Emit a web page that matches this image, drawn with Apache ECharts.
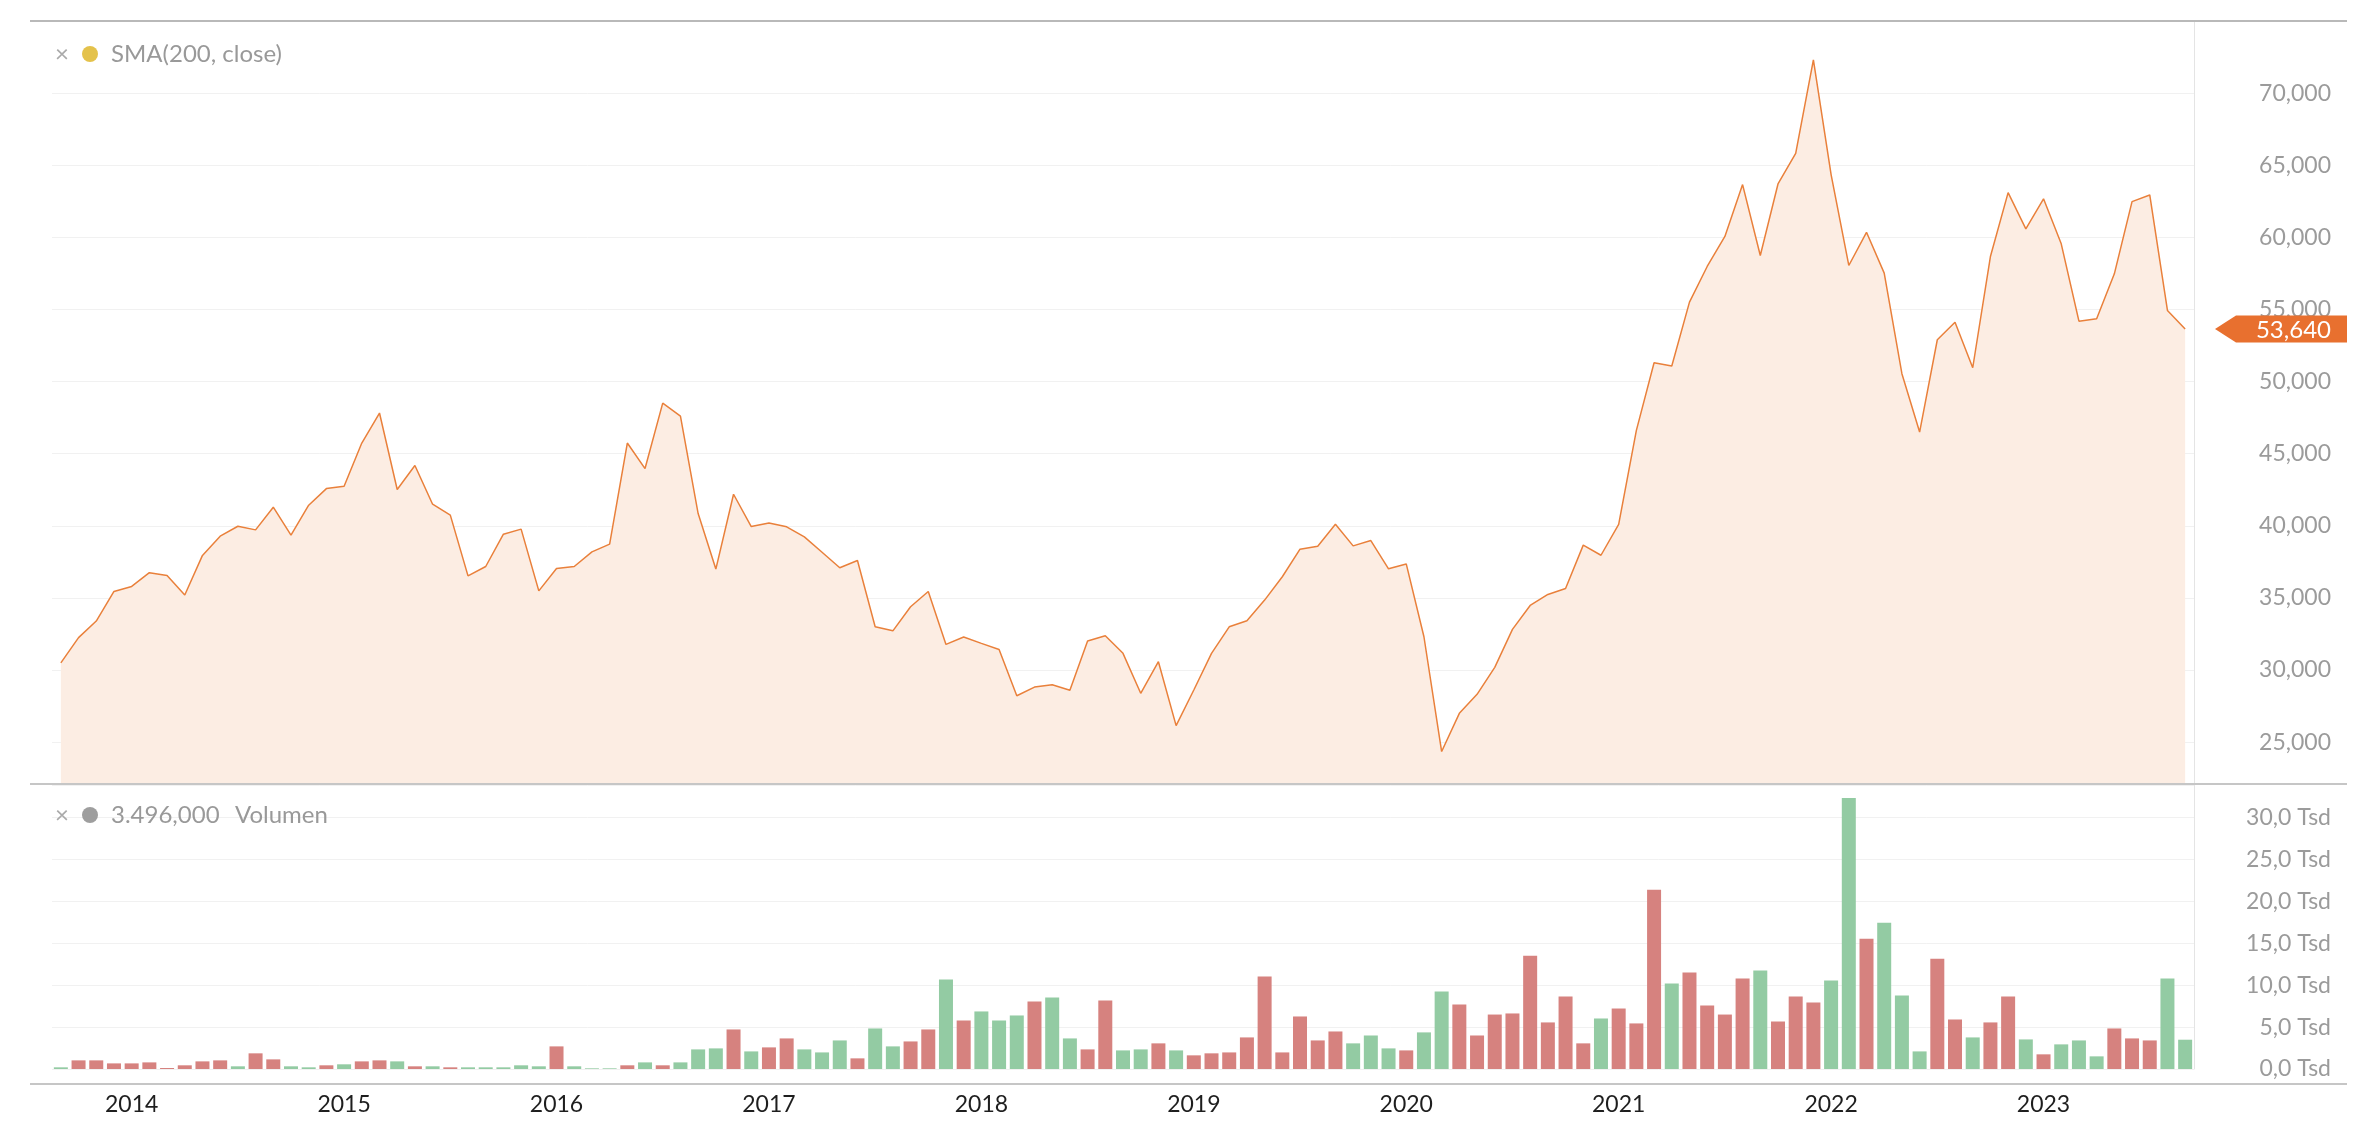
<!DOCTYPE html>
<html><head><meta charset="utf-8">
<script src="https://cdn.jsdelivr.net/npm/echarts@6/dist/echarts.min.js"></script>
<style>html,body{margin:0;padding:0;background:#fff}#c{width:2376px;height:1124px}</style>
</head><body><div id="c"></div>
<script>
// Monthly categories (Sep 2013 – Sep 2023)
const months = [
  '2013-09','2013-10','2013-11','2013-12',
  '2014-01','2014-02','2014-03','2014-04','2014-05','2014-06','2014-07','2014-08','2014-09','2014-10','2014-11','2014-12',
  '2015-01','2015-02','2015-03','2015-04','2015-05','2015-06','2015-07','2015-08','2015-09','2015-10','2015-11','2015-12',
  '2016-01','2016-02','2016-03','2016-04','2016-05','2016-06','2016-07','2016-08','2016-09','2016-10','2016-11','2016-12',
  '2017-01','2017-02','2017-03','2017-04','2017-05','2017-06','2017-07','2017-08','2017-09','2017-10','2017-11','2017-12',
  '2018-01','2018-02','2018-03','2018-04','2018-05','2018-06','2018-07','2018-08','2018-09','2018-10','2018-11','2018-12',
  '2019-01','2019-02','2019-03','2019-04','2019-05','2019-06','2019-07','2019-08','2019-09','2019-10','2019-11','2019-12',
  '2020-01','2020-02','2020-03','2020-04','2020-05','2020-06','2020-07','2020-08','2020-09','2020-10','2020-11','2020-12',
  '2021-01','2021-02','2021-03','2021-04','2021-05','2021-06','2021-07','2021-08','2021-09','2021-10','2021-11','2021-12',
  '2022-01','2022-02','2022-03','2022-04','2022-05','2022-06','2022-07','2022-08','2022-09','2022-10','2022-11','2022-12',
  '2023-01','2023-02','2023-03','2023-04','2023-05','2023-06','2023-07','2023-08','2023-09'
];

// SMA(200, close) values
const smaValues = [
  30500, 32250, 33400, 35450,
  35800, 36750, 36550, 35200, 37950, 39280, 39970, 39720, 41290, 39350, 41430, 42580,
  42740, 45740, 47820, 42520, 44180, 41500, 40740, 36530, 37180, 39420, 39770, 35490,
  37040, 37180, 38190, 38730, 45740, 43970, 48510, 47610, 40850, 37000, 42190, 39950,
  40200, 39930, 39230, 38170, 37090, 37600, 33000, 32720, 34390, 35450, 31780, 32290,
  31850, 31430, 28220, 28820, 28980, 28600, 32010, 32380, 31160, 28390, 30580, 26150,
  28620, 31160, 33000, 33420, 34850, 36470, 38380, 38590, 40110, 38610, 38980, 37020,
  37360, 32310, 24350, 27000, 28320, 30190, 32820, 34480, 35240, 35660, 38660, 37960,
  40100, 46620, 51310, 51080, 55510, 57980, 60060, 63660, 58740, 63700, 65830, 72310,
  64350, 58050, 60350, 57520, 50550, 46500, 52900, 54120, 50960, 58670, 63100, 60590,
  62670, 59550, 54190, 54360, 57470, 62480, 62940, 54930, 53640
];

// Volume in thousands (Tsd)
const volumeValues = [
  0.2, 1.03, 1.03, 0.67,
  0.67, 0.79, 0.12, 0.44, 0.91, 1.03, 0.32, 1.87, 1.15, 0.32, 0.2, 0.44,
  0.56, 0.91, 1.03, 0.91, 0.32, 0.32, 0.2, 0.2, 0.2, 0.2, 0.44, 0.32,
  2.7, 0.32, 0.08, 0.08, 0.44, 0.79, 0.44, 0.79, 2.34, 2.46, 4.72, 2.1,
  2.58, 3.65, 2.34, 1.98, 3.41, 1.27, 4.84, 2.7, 3.29, 4.72, 10.67, 5.79,
  6.87, 5.79, 6.39, 8.06, 8.53, 3.65, 2.34, 8.17, 2.22, 2.34, 3.06, 2.22,
  1.63, 1.87, 1.98, 3.77, 11.03, 1.98, 6.27, 3.41, 4.48, 3.06, 4.0, 2.46,
  2.22, 4.37, 9.25, 7.7, 4.0, 6.5, 6.63, 13.53, 5.56, 8.65, 3.06, 6.03,
  7.22, 5.44, 21.39, 10.2, 11.51, 7.58, 6.5, 10.79, 11.75, 5.67, 8.65, 7.94,
  10.56, 32.34, 15.56, 17.46, 8.77, 2.1, 13.17, 5.91, 3.77, 5.56, 8.65, 3.53,
  1.75, 2.94, 3.41, 1.51, 4.84, 3.65, 3.41, 10.79, 3.496
];

// 1 = up month (green), 0 = down month (red)
const volumeUp = [
  1,0,0,0,
  0,0,0,0,0,0,1,0,0,1,1,0,
  1,0,0,1,0,1,0,1,1,1,1,1,
  0,1,1,1,0,1,0,1,1,1,0,1,
  0,0,1,1,1,0,1,1,0,0,1,0,
  1,1,1,0,1,1,0,0,1,1,0,1,
  0,0,0,0,0,0,0,0,0,1,1,1,
  0,1,1,0,0,0,0,0,0,0,0,1,
  0,0,0,1,0,0,0,0,1,0,0,0,
  1,1,0,1,1,1,0,0,1,0,0,1,
  0,1,1,1,0,0,0,1,1
];

const smaTicks = [25000, 30000, 35000, 40000, 45000, 50000, 55000, 60000, 65000, 70000];
const volTicks = [0, 5, 10, 15, 20, 25, 30];

const FONT = 'Lato';
const GREEN = '#93cba3', RED = '#d6827f';

const chart = echarts.init(document.getElementById('c'), null, {renderer: 'canvas'});

const fmtSma = v => Math.round(v).toLocaleString('en-US');
const fmtVol = v => v.toFixed(1).replace('.', ',') + ' Tsd';

const option = {
  animation: false,
  backgroundColor: '#ffffff',
  grid: [
    {left: 52, right: 182, top: 21, height: 762},
    {left: 52, right: 182, top: 785, height: 284}
  ],
  xAxis: [
    {type: 'category', gridIndex: 0, data: months, boundaryGap: true,
     axisLine: {show: false}, axisTick: {show: false}, axisLabel: {show: false}, splitLine: {show: false}},
    {type: 'category', gridIndex: 1, data: months, boundaryGap: true,
     axisLine: {show: false}, axisTick: {show: false}, splitLine: {show: false},
     axisLabel: {
       show: true, margin: 24, color: '#1e1e1e', fontFamily: FONT, fontSize: 23,
       interval: (idx, val) => val.endsWith('-01'),
       formatter: val => val.slice(0, 4)
     }}
  ],
  yAxis: [
    {type: 'value', gridIndex: 0, position: 'right', min: 22170, max: 75000, splitNumber: 10,
     axisLine: {show: true, lineStyle: {color: '#e4e4e4', width: 1}},
     axisTick: {show: false},
     splitLine: {show: true, lineStyle: {color: '#f1f1f1', width: 1}},
     axisLabel: {show: true, align: 'right', margin: 137, color: '#9b9b9b', fontFamily: FONT, fontSize: 23,
       formatter: v => smaTicks.indexOf(v) >= 0 ? fmtSma(v) : ''}},
    {type: 'value', gridIndex: 1, position: 'right', min: 0, max: 33.9, interval: 5,
     axisLine: {show: true, lineStyle: {color: '#e4e4e4', width: 1}},
     axisTick: {show: false},
     splitLine: {show: true, lineStyle: {color: '#f1f1f1', width: 1}},
     axisLabel: {show: true, align: 'right', margin: 137, color: '#9b9b9b', fontFamily: FONT, fontSize: 23,
       formatter: v => volTicks.indexOf(v) >= 0 ? fmtVol(v) : ''}}
  ],
  series: [
    {name: 'SMA(200, close)', type: 'line', xAxisIndex: 0, yAxisIndex: 0, data: smaValues,
     symbol: 'none', smooth: false,
     lineStyle: {color: '#e9803b', width: 1.5},
     areaStyle: {color: '#fcede3', origin: 'start', opacity: 1}, z: 3},
    {name: 'Volumen', type: 'bar', xAxisIndex: 1, yAxisIndex: 1, barWidth: 14,
     data: volumeValues.map((v, i) => ({value: v, itemStyle: {color: volumeUp[i] ? GREEN : RED}}))}
  ],
  graphic: [
    {type: 'line', shape: {x1: 30, y1: 21, x2: 2347, y2: 21}, style: {stroke: '#b9b9b9', lineWidth: 2}, z: 10},
    {type: 'line', shape: {x1: 30, y1: 784, x2: 2347, y2: 784}, style: {stroke: '#c6c6c6', lineWidth: 2}, z: 10},
    {type: 'line', shape: {x1: 30, y1: 1084, x2: 2347, y2: 1084}, style: {stroke: '#c6c6c6', lineWidth: 2}, z: 10},
    // legend 1
    {type: 'text', x: 62, y: 54, style: {text: '×', fill: '#aaaaaa', font: '24px ' + FONT, align: 'center', verticalAlign: 'middle'}, z: 10},
    {type: 'circle', shape: {cx: 90, cy: 54, r: 8}, style: {fill: '#e4c24b'}, z: 10},
    {type: 'text', x: 111, y: 54, style: {text: 'SMA(200, close)', fill: '#999999', font: '24px ' + FONT, verticalAlign: 'middle'}, z: 10},
    // legend 2
    {type: 'text', x: 62, y: 815, style: {text: '×', fill: '#aaaaaa', font: '24px ' + FONT, align: 'center', verticalAlign: 'middle'}, z: 10},
    {type: 'circle', shape: {cx: 90, cy: 815, r: 8}, style: {fill: '#9e9e9e'}, z: 10},
    {type: 'text', x: 111, y: 815, style: {text: '3.496,000', fill: '#999999', font: '24px ' + FONT, verticalAlign: 'middle'}, z: 10},
    {type: 'text', x: 235, y: 815, style: {text: 'Volumen', fill: '#999999', font: '24px ' + FONT, verticalAlign: 'middle'}, z: 10}
  ]
};
chart.setOption(option);

// Last-value price tag on the right axis, positioned through the axis scale
const lastVal = smaValues[smaValues.length - 1];
const ty = chart.convertToPixel({yAxisIndex: 0}, lastVal);
const g = option.graphic.slice();
g.push({type: 'polygon', shape: {points: [[2215, ty], [2236, ty - 13.5], [2347, ty - 13.5], [2347, ty + 13.5], [2236, ty + 13.5]]},
        style: {fill: '#e8702f'}, z: 20});
g.push({type: 'text', x: 2331, y: ty + 1, style: {text: fmtSma(lastVal), fill: '#ffffff', font: '24px ' + FONT, align: 'right', verticalAlign: 'middle'}, z: 21});
chart.setOption({graphic: g});
</script>
</body></html>
